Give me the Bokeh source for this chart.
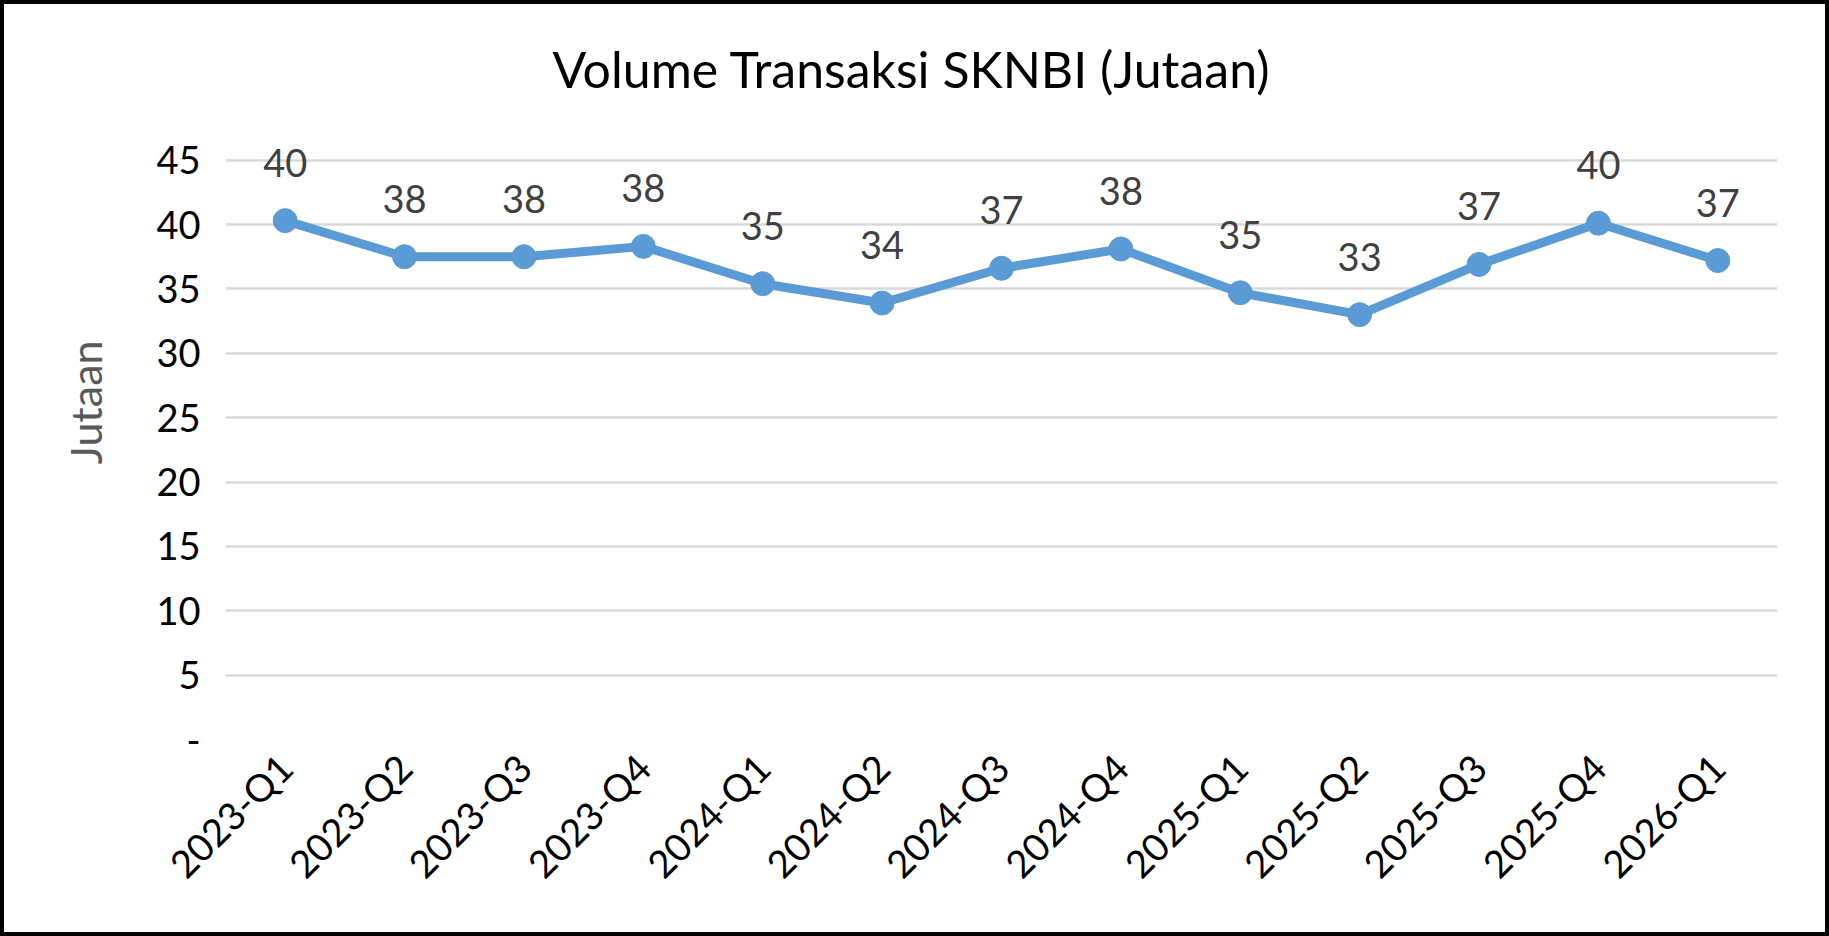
import math
from bokeh.plotting import figure
from bokeh.models import ColumnDataSource, LabelSet, FactorRange, Range1d, FixedTicker, Title
from bokeh.core.properties import value
from bokeh.embed import file_html
from bokeh.resources import INLINE

# ---- data ----
quarters = ["2023-Q1", "2023-Q2", "2023-Q3", "2023-Q4",
            "2024-Q1", "2024-Q2", "2024-Q3", "2024-Q4",
            "2025-Q1", "2025-Q2", "2025-Q3", "2025-Q4", "2026-Q1"]
volumes = [40.3, 37.5, 37.5, 38.3, 35.4, 33.9, 36.6, 38.1, 34.7, 33.0, 36.9, 40.1, 37.2]
value_labels = ["40", "38", "38", "38", "35", "34", "37", "38", "35", "33", "37", "40", "37"]
y_ticks = [0, 5, 10, 15, 20, 25, 30, 35, 40, 45]
y_tick_text = {0: "-"}

title_text = "Volume Transaksi SKNBI (Jutaan)"
y_title = "Jutaan"

FONT = "Lato"
LINE_COLOR = "#5B9BD5"

src = ColumnDataSource(dict(q=quarters, v=volumes, lab=value_labels))

# y range extends a little above the top gridline so the data labels are not clipped
p = figure(width=1821, height=928, x_range=FactorRange(factors=quarters),
           y_range=Range1d(0, 48), output_backend="svg", toolbar_location=None,
           min_border_left=221, min_border_right=48, min_border_top=117,
           min_border_bottom=193)
p.styles = {"margin": "4px", "outline": "4px solid black"}

p.title.text = title_text
p.title.align = "left"
p.title.offset = 327
p.title.text_font = FONT
p.title.text_font_size = "50px"
p.title.text_font_style = "normal"
p.title.text_color = "#000000"
p.title.standoff = 46

p.outline_line_color = None
p.background_fill_color = "white"
p.border_fill_color = "white"

p.xgrid.grid_line_color = None
p.ygrid.grid_line_color = "#D9D9D9"
p.ygrid.grid_line_width = 2.7

p.yaxis.ticker = FixedTicker(ticks=y_ticks)
p.yaxis.major_label_overrides = y_tick_text
p.yaxis.axis_line_color = None
p.yaxis.major_tick_line_color = None
p.yaxis.minor_tick_line_color = None
p.yaxis.major_label_text_font = FONT
p.yaxis.major_label_text_font_size = "38px"
p.yaxis.major_label_text_color = "#000000"
p.yaxis.major_label_standoff = 19

ytitle = Title(text=y_title, align="right", offset=219, standoff=85,
               text_font=FONT, text_font_size="43px", text_font_style="normal",
               text_color="#595959")
p.add_layout(ytitle, "left")

p.xaxis.axis_line_color = None
p.xaxis.major_tick_line_color = None
p.xaxis.minor_tick_line_color = None
p.xaxis.major_label_orientation = math.pi / 4
p.xaxis.major_label_text_font = FONT
p.xaxis.major_label_text_font_size = "38px"
p.xaxis.major_label_text_color = "#000000"
p.xaxis.major_label_standoff = 15

p.line("q", "v", source=src, line_color=LINE_COLOR, line_width=9)
p.scatter("q", "v", source=src, size=24, fill_color=LINE_COLOR, line_color=LINE_COLOR)

labels = LabelSet(x="q", y="v", text="lab", source=src, text_align="center",
                  text_baseline="alphabetic", y_offset=44,
                  text_font=value(FONT), text_font_size="38px", text_color="#404040")
p.add_layout(labels)

open("out.html", "w").write(file_html(p, INLINE))
